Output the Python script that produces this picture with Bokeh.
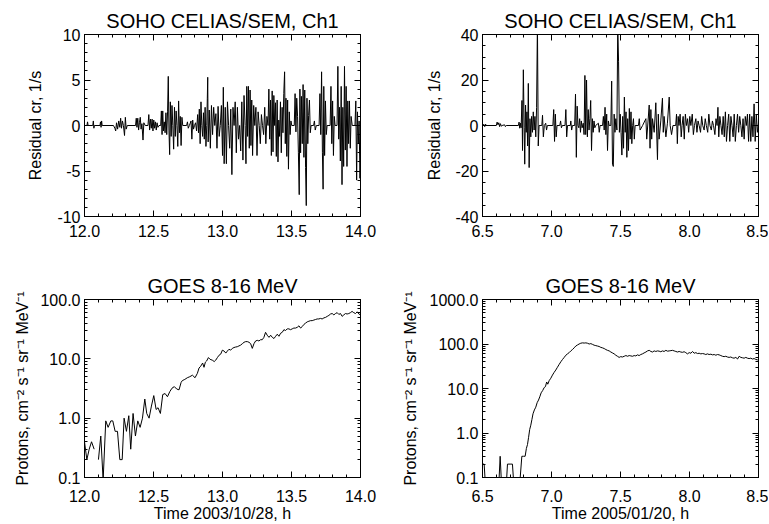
from bokeh.plotting import figure
from bokeh.models import (Range1d, LinearAxis, LogAxis, FixedTicker, PrintfTickFormatter,
                          CustomJSTickFormatter)
from bokeh.layouts import column, row
from bokeh.embed import file_html
from bokeh.resources import INLINE

FONT = "Liberation Sans"
NAN = float("nan")

# ---------------- data ----------------
# SOHO CELIAS/SEM Ch1 residual count rate, 2003/10/28 (hour, 1/s)
sem_2003 = [
    (12.000, 0), (12.018, 0), (12.022, 0.4), (12.026, 0), (12.060, 0), (12.064, 0.5), (12.068, -0.3), (12.072, 0),
    (12.112, 0), (12.116, 0.4), (12.120, -0.2), (12.124, 0.5), (12.128, 0), (12.210, 0), (12.220, -0.3), (12.226, -0.6),
    (12.232, 0.3), (12.240, -0.4), (12.248, 0.5), (12.256, -0.2), (12.262, 0.8), (12.268, -0.3), (12.275, 0.5), (12.282, 0),
    (12.290, -1.1), (12.296, 0.9), (12.302, -0.4), (12.310, 0),
    (12.370, 0), (12.375, 0.8), (12.380, -0.2), (12.386, 0.8), (12.392, -0.5), (12.398, 0.3), (12.404, 0.9), (12.410, -0.4),
    (12.416, 0.2), (12.424, -1.6), (12.430, 0.3), (12.440, 0), (12.460, 0), (12.466, 1.2), (12.472, -0.5), (12.478, 0.7),
    (12.484, -0.3), (12.490, 0.7), (12.496, -0.6), (12.502, 0.6), (12.508, -0.3), (12.514, 0.4), (12.520, -0.5), (12.526, 0.3),
    (12.532, -0.2), (12.540, 0), (12.552, 0), (12.557, 1.6), (12.562, -1.0), (12.567, 1.6), (12.572, -0.6), (12.578, 0.4),
    (12.584, -0.8), (12.590, 1.4), (12.596, -1.0), (12.602, 1.5), (12.607, 5.4), (12.612, -0.5), (12.617, -3.2), (12.622, 2.6),
    (12.628, -1.2), (12.634, 2.2), (12.640, 0), (12.646, -2.6), (12.652, 2.0), (12.658, -1.2), (12.664, 1.6), (12.670, 0),
    (12.676, -2.3), (12.682, 2.7), (12.688, -0.8), (12.694, 1.0), (12.700, -2.2), (12.706, 0.9), (12.712, 0),
    (12.740, 0), (12.746, 0.4), (12.752, -0.3), (12.760, 0), (12.772, 0.5), (12.778, -1.5), (12.784, 0.6),
    (12.790, -0.4), (12.797, 0), (12.805, 0.3), (12.812, -0.6), (12.820, 1.2), (12.826, -0.8), (12.832, 1.8), (12.838, -2.0),
    (12.844, 2.6), (12.850, 0), (12.856, -1.2), (12.862, 1.4), (12.868, -1.5), (12.874, 2.0), (12.880, -2.3), (12.886, 0),
    (12.890, 3.0), (12.893, 5.3), (12.896, -1.8), (12.904, 1.7), (12.912, -2.5), (12.920, 2.2), (12.928, -1.0), (12.936, 2.0),
    (12.944, 0), (12.952, 1.3), (12.960, -2.5), (12.968, 2.1), (12.976, -1.2), (12.984, 0), (12.992, 2.2), (13.000, -3.3),
    (13.006, 4.2), (13.012, -4.2), (13.020, 2.0), (13.028, -4.2), (13.036, 2.6), (13.044, 0), (13.052, -2.5), (13.060, 1.8),
    (13.068, -5.4), (13.076, 2.0), (13.084, 0), (13.092, 2.6), (13.100, -3.0), (13.108, 2.0), (13.116, -1.5), (13.124, 0),
    (13.132, -2.8), (13.140, 2.6), (13.148, -3.8), (13.156, 3.3), (13.164, 0), (13.170, -4.2), (13.176, 4.3), (13.182, -1.2),
    (13.188, 4.3), (13.194, -2.5), (13.200, 3.9), (13.206, -2.2), (13.212, 2.8), (13.218, -3.3), (13.226, 2.2), (13.234, 0),
    (13.242, 2.0), (13.250, -3.3), (13.258, 1.5), (13.266, 0), (13.274, -2.0), (13.282, 1.2), (13.290, 0),
    (13.298, -1.0), (13.306, 2.0), (13.314, -2.0), (13.322, 1.0), (13.330, 0), (13.336, 4.0), (13.342, -1.5), (13.348, 2.8),
    (13.354, -3.3), (13.360, 3.8), (13.366, -2.9),
    (13.372, 3.3), (13.378, 0), (13.384, 2.5), (13.390, -3.4), (13.396, 2.8), (13.402, -4.0), (13.408, 0.6), (13.414, -1.2),
    (13.420, 2.6), (13.426, -3.0), (13.432, 2.0), (13.438, -0.8), (13.444, 3.5), (13.450, 5.9), (13.455, -2.0), (13.460, 3.0),
    (13.466, -3.4), (13.472, 2.8), (13.478, -4.8), (13.484, 1.5), (13.490, -1.0), (13.496, 0.5), (13.502, 0), (13.520, 0),
    (13.526, 3.5), (13.532, -0.7), (13.538, 3.0), (13.544, 1.0), (13.550, -3.0), (13.556, -7.6), (13.561, 4.0), (13.566, -3.0),
    (13.572, 3.2), (13.578, -2.0), (13.584, 4.5), (13.590, -3.5), (13.596, 3.9), (13.602, -4.6), (13.607, -8.8), (13.612, 3.0),
    (13.618, -2.0), (13.624, 1.1), (13.630, 2.8), (13.636, -0.8), (13.642, 0), (13.660, 0), (13.666, 0.5), (13.672, -0.5),
    (13.680, 0), (13.700, 0), (13.706, 3.5), (13.712, -1.0), (13.718, 5.9), (13.724, -3.0), (13.729, -7.0), (13.734, 4.3),
    (13.740, -3.3), (13.746, 2.7), (13.752, -1.0), (13.758, 0), (13.780, 0), (13.786, 4.3), (13.792, -2.0), (13.798, 2.7),
    (13.804, -3.3), (13.810, 1.0), (13.816, 0), (13.830, 0), (13.836, 6.5), (13.842, -1.5), (13.848, 2.0), (13.854, -3.9),
    (13.860, 4.3), (13.866, -6.5), (13.872, 2.0), (13.878, -4.5), (13.884, 6.5), (13.890, -2.7), (13.896, 4.3), (13.902, -4.5),
    (13.908, 2.7), (13.914, -2.0), (13.920, 2.7), (13.926, -2.5), (13.932, 1.0), (13.940, 0), (13.960, 0), (13.966, 2.7),
    (13.972, -6.0), (13.978, 1.5), (13.984, -2.0), (13.990, 0.5), (13.996, -5.8), (14.000, -4.0),
]

# SOHO CELIAS/SEM Ch1 residual count rate, 2005/01/20 (hour, 1/s)
sem_2005 = [
    (6.500, 0), (6.510, 0.5), (6.516, -0.5), (6.522, 0.6), (6.528, 0), (6.600, 0), (6.606, 1.5), (6.612, 0.3),
    (6.618, 1.2), (6.624, -0.5), (6.630, 0.8), (6.636, -0.3), (6.642, 0), (6.660, 0.3), (6.666, -0.5), (6.672, 0),
    (6.760, 0), (6.765, 1.5), (6.770, -1.2), (6.775, 1.0), (6.780, -1.0), (6.786, 11), (6.790, -11), (6.796, 24.5),
    (6.802, -1), (6.806, -17), (6.812, 9), (6.817, -3), (6.822, 6), (6.827, -9), (6.832, 18.5), (6.838, -18.5),
    (6.844, 3), (6.850, -5), (6.856, 4), (6.862, -3), (6.868, 6), (6.874, -2), (6.880, 4), (6.886, -5),
    (6.892, 8), (6.898, 45), (6.904, -9), (6.910, 0), (6.930, 0), (6.935, 4.5), (6.941, -5), (6.948, 0),
    (6.958, 1), (6.964, -2), (6.970, 0), (7.010, 0), (7.016, 7), (7.022, -7), (7.028, 5), (7.034, -5),
    (7.040, 0), (7.060, 0), (7.066, 2), (7.072, -1), (7.078, 0), (7.098, 0), (7.104, 7), (7.110, -5),
    (7.116, 0), (7.136, 0), (7.140, 2), (7.146, -2), (7.152, 0), (7.168, 0), (7.174, 13.8), (7.180, -14),
    (7.186, 8.5), (7.192, 0), (7.198, -1), (7.204, 3), (7.210, -3), (7.216, 2), (7.222, -1), (7.230, 1),
    (7.236, -4), (7.242, 22), (7.248, -4), (7.254, 20), (7.260, -5), (7.266, 7), (7.272, -2), (7.278, 3),
    (7.284, 11), (7.290, -11), (7.296, 3), (7.302, -3), (7.308, 2), (7.314, -1), (7.320, 0), (7.340, 1),
    (7.346, -3), (7.352, 0), (7.370, 0), (7.376, 4), (7.382, -2), (7.388, 8), (7.394, -4), (7.400, 5),
    (7.406, -11), (7.412, 2), (7.418, 0), (7.430, 0), (7.436, 19.5), (7.442, -17), (7.448, -18), (7.454, 5),
    (7.460, -3), (7.466, 3), (7.474, -2), (7.480, 44), (7.486, 28), (7.492, -3), (7.498, 5), (7.504, -3),
    (7.510, -13), (7.516, 4), (7.522, -10), (7.528, 12.5), (7.534, -3), (7.540, 6), (7.546, -14), (7.552, 3),
    (7.558, -11), (7.564, 7.5), (7.570, -6), (7.576, 6), (7.582, -8), (7.588, 0), (7.594, 3), (7.600, -6),
    (7.606, 0), (7.630, 0), (7.636, 3), (7.642, -2), (7.660, 0), (7.684, 3), (7.690, -6), (7.708, 9),
    (7.714, -10), (7.720, 7), (7.726, -6), (7.732, 3), (7.744, -3), (7.756, 10), (7.768, -15), (7.774, 5),
    (7.780, -6), (7.792, 2), (7.804, 12), (7.810, -3), (7.816, 4), (7.829, -5), (7.840, 1), (7.853, 12.5),
    (7.860, 0), (7.870, -4), (7.880, 0), (7.900, 0), (7.906, 5), (7.912, -8), (7.918, 4), (7.924, 0),
    (7.932, 5), (7.940, -5), (7.946, 0), (7.954, 4), (7.962, -6), (7.970, 5), (7.978, 0), (7.986, 3),
    (7.994, -3), (8.002, 4), (8.010, 0), (8.020, 5), (8.028, -4), (8.036, 0), (8.046, 3), (8.054, -3),
    (8.062, 2), (8.070, 0), (8.080, -3), (8.088, 4), (8.096, 0), (8.106, -2), (8.114, 3), (8.122, 0),
    (8.132, -3), (8.140, 5), (8.148, 0), (8.158, -2), (8.166, 2), (8.174, 0), (8.184, -4), (8.192, 3),
    (8.200, 0), (8.206, 8), (8.212, -5), (8.220, 4), (8.228, 0), (8.236, -4), (8.244, 4), (8.252, -5),
    (8.260, 6), (8.268, -7), (8.276, 0), (8.284, 5), (8.292, -7), (8.300, 4), (8.308, 0), (8.316, -5),
    (8.324, 5), (8.332, -7), (8.340, 0), (8.348, 5), (8.356, -3), (8.364, 4), (8.372, 0), (8.380, -5),
    (8.388, 3), (8.396, -6), (8.404, 4), (8.412, 0), (8.420, 5), (8.428, -7), (8.436, 5), (8.444, -7),
    (8.452, 4), (8.460, -5), (8.468, 9.5), (8.476, -7), (8.484, 5), (8.492, -3), (8.500, 1),
]

# GOES 8-16 MeV protons, 2003/10/28 (hour, cm-2 s-1 sr-1 MeV-1)
goes_2003 = [
    (12.000, 0.40), (12.017, 0.20), (12.034, 0.30), (12.051, 0.40), (12.070, 0.30), (12.085, NAN),
    (12.101, 0.20), (12.118, 0.50), (12.135, 0.09), (12.154, 0.90), (12.171, 0.70), (12.191, 0.90),
    (12.205, 0.90), (12.222, 0.60), (12.239, 0.60), (12.256, 0.20), (12.273, 0.20), (12.287, 1.00),
    (12.304, 0.60), (12.321, 1.10), (12.335, 0.30), (12.352, 1.20), (12.369, 0.50), (12.386, 0.90),
    (12.403, 0.70), (12.420, 1.00), (12.437, 2.10), (12.451, 1.20), (12.468, 1.00), (12.485, 1.60),
    (12.502, 2.40), (12.519, 1.40), (12.533, 1.50), (12.550, 1.20), (12.567, 2.50), (12.584, 2.60),
    (12.601, 2.30), (12.618, 2.80), (12.634, 3.20), (12.651, 3.40), (12.668, 3.10), (12.685, 3.00),
    (12.700, 4.00), (12.709, 4.30), (12.727, 4.50), (12.745, 4.80), (12.763, 5.00), (12.782, 5.30),
    (12.801, 4.80), (12.818, 5.70), (12.830, 7.00), (12.842, 7.50), (12.856, 8.50), (12.866, 7.20),
    (12.876, 8.80), (12.885, 9.20), (12.898, 10.5), (12.910, 9.80), (12.926, 9.50), (12.940, 9.00),
    (12.951, 9.50), (12.963, 10.5), (12.975, 11.5), (12.987, 12.0), (12.999, 14.0), (13.012, 13.5),
    (13.024, 12.5), (13.035, 13.5), (13.047, 14.5), (13.059, 14.0), (13.071, 15.0), (13.083, 15.5),
    (13.095, 15.8), (13.107, 16.0), (13.119, 16.5), (13.131, 17.0), (13.144, 18.0), (13.156, 19.0),
    (13.168, 19.5), (13.180, 19.5), (13.192, 19.0), (13.204, 18.0), (13.216, 15.0), (13.228, 18.0),
    (13.240, 20.0), (13.252, 20.5), (13.264, 20.0), (13.276, 21.0), (13.288, 21.0), (13.300, 23.0),
    (13.312, 28.0), (13.324, 25.0), (13.337, 23.0), (13.349, 25.0), (13.361, 23.0), (13.373, 22.0),
    (13.385, 24.0), (13.397, 26.0), (13.409, 24.0), (13.421, 27.0), (13.433, 28.0), (13.445, 31.0),
    (13.457, 30.0), (13.469, 32.0), (13.481, 32.0), (13.493, 31.0), (13.505, 32.0), (13.517, 33.0),
    (13.529, 33.0), (13.542, 34.0), (13.554, 36.0), (13.566, 33.0), (13.578, 35.0), (13.590, 38.0),
    (13.602, 40.0), (13.614, 42.0), (13.626, 43.0), (13.638, 44.0), (13.650, 44.0), (13.662, 45.0),
    (13.674, 46.0), (13.686, 47.0), (13.698, 47.0), (13.710, 48.0), (13.722, 47.0), (13.735, 49.0),
    (13.747, 50.0), (13.759, 52.0), (13.771, 54.0), (13.783, 57.0), (13.795, 58.0), (13.807, 55.0),
    (13.819, 58.0), (13.831, 60.0), (13.843, 56.0), (13.855, 58.0), (13.867, 52.0), (13.879, 55.0),
    (13.891, 58.0), (13.903, 57.0), (13.915, 58.0), (13.927, 60.0), (13.939, 63.0), (13.951, 60.0),
    (13.964, 58.0), (13.976, 62.0), (13.988, 57.0), (14.000, 55.0),
]

# GOES 8-16 MeV protons, 2005/01/20 (hour, cm-2 s-1 sr-1 MeV-1); 0.05 = below plot floor
goes_2005 = [
    (6.500, 0.20), (6.512, 0.20), (6.524, 0.05), (6.560, 0.05), (6.600, 0.05), (6.616, 0.05), (6.628, 0.30),
    (6.640, 0.05), (6.655, 0.05), (6.670, 0.05), (6.681, 0.20), (6.700, 0.20), (6.717, 0.20), (6.730, 0.05),
    (6.745, 0.05), (6.766, 0.05), (6.785, 0.30), (6.797, 0.30), (6.809, 0.30), (6.818, 0.45), (6.826, 0.55),
    (6.834, 0.80), (6.842, 1.20), (6.850, 1.50), (6.858, 2.00), (6.866, 2.70), (6.876, 3.30), (6.886, 3.80),
    (6.896, 4.80), (6.906, 5.50), (6.915, 6.50), (6.925, 8.00), (6.936, 9.00), (6.947, 10.5), (6.956, 11.0),
    (6.965, 14.0), (6.973, 12.5), (6.983, 15.0), (6.995, 17.0), (7.007, 20.0), (7.019, 23.0), (7.031, 26.0),
    (7.043, 30.0), (7.056, 35.0), (7.068, 40.0), (7.080, 45.0), (7.092, 50.0), (7.104, 56.0), (7.116, 60.0),
    (7.128, 64.0), (7.140, 70.0), (7.152, 75.0), (7.164, 82.0), (7.176, 90.0), (7.188, 95.0), (7.200, 100.0),
    (7.212, 104.0), (7.224, 106.0), (7.237, 105.0), (7.249, 106.0), (7.261, 104.0), (7.273, 100.0),
    (7.285, 102.0), (7.297, 98.0), (7.309, 94.0),
    (7.321, 92.0), (7.333, 90.0), (7.345, 88.0), (7.357, 84.0), (7.369, 82.0), (7.382, 79.0), (7.394, 75.0),
    (7.406, 72.0), (7.418, 70.0), (7.430, 66.0), (7.442, 63.0), (7.454, 60.0), (7.466, 56.0), (7.478, 53.0),
    (7.490, 50.0), (7.502, 52.0), (7.514, 51.0), (7.527, 53.0), (7.539, 55.0), (7.551, 53.0), (7.563, 55.0),
    (7.575, 54.0), (7.587, 53.0), (7.599, 55.0), (7.611, 54.0), (7.623, 57.0), (7.635, 55.0), (7.647, 58.0),
    (7.659, 60.0), (7.671, 63.0), (7.684, 66.0), (7.696, 70.0), (7.708, 72.0), (7.720, 68.0), (7.732, 66.0),
    (7.744, 70.0), (7.756, 68.0), (7.768, 70.0), (7.780, 69.0), (7.792, 67.0), (7.804, 70.0), (7.816, 68.0),
    (7.829, 72.0), (7.841, 69.0), (7.853, 70.0), (7.865, 71.0), (7.877, 72.0), (7.889, 70.0), (7.901, 68.0),
    (7.913, 66.0), (7.925, 68.0), (7.937, 66.0), (7.949, 65.0), (7.961, 67.0), (7.973, 64.0), (7.985, 60.0),
    (7.998, 64.0), (8.010, 62.0), (8.022, 68.0), (8.034, 62.0), (8.046, 64.0), (8.058, 61.0), (8.070, 62.0),
    (8.082, 60.0), (8.094, 61.0), (8.106, 60.0), (8.118, 58.0), (8.130, 60.0), (8.142, 58.0), (8.155, 59.0),
    (8.167, 57.0), (8.179, 58.0), (8.191, 56.0), (8.203, 58.0), (8.215, 57.0), (8.227, 55.0), (8.239, 53.0),
    (8.251, 52.0), (8.263, 53.0), (8.275, 51.0), (8.287, 50.0), (8.299, 51.0), (8.311, 49.0), (8.323, 48.0),
    (8.336, 50.0), (8.348, 46.0), (8.360, 53.0), (8.372, 50.0), (8.384, 49.0), (8.396, 48.0), (8.408, 50.0),
    (8.420, 48.0), (8.432, 47.0), (8.444, 48.0), (8.456, 46.0), (8.468, 47.0), (8.481, 45.0), (8.493, 44.0),
    (8.500, 44.0),
]

# axis ticks / labels
x_major_2003 = [12.0, 12.5, 13.0, 13.5, 14.0]
x_major_2005 = [6.5, 7.0, 7.5, 8.0, 8.5]
y_major_sem_2003 = [-10, -5, 0, 5, 10]
y_major_sem_2005 = [-40, -20, 0, 20, 40]
y_major_goes_2003 = [0.1, 1.0, 10.0, 100.0]
y_major_goes_2005 = [0.1, 1.0, 10.0, 100.0, 1000.0]

TITLE_SEM = "SOHO CELIAS/SEM, Ch1"
TITLE_GOES = "GOES 8-16 MeV"
YLAB_SEM = "Residual cr, 1/s"
YLAB_GOES = "Protons, cm\u207b\u00b2 s\u207b\u00b9 sr\u207b\u00b9 MeV\u207b\u00b9"
XLAB_2003 = "Time 2003/10/28, h"
XLAB_2005 = "Time 2005/01/20, h"


def lin_minor(lo, hi, step):
    n = int(round((hi - lo) / step))
    return [round(lo + i * step, 4) for i in range(n + 1)]


def log_minor(lo_exp, hi_exp):
    out = []
    for e in range(lo_exp, hi_exp):
        for m in range(2, 10):
            out.append(m * 10.0 ** e)
    return out


def style_axis(ax, hidden=False):
    ax.major_tick_in = 6
    ax.major_tick_out = 0
    ax.minor_tick_in = 3
    ax.minor_tick_out = 0
    ax.axis_line_color = "black"
    ax.major_tick_line_color = "black"
    ax.minor_tick_line_color = "black"
    ax.major_label_text_font = FONT
    ax.major_label_text_font_size = "16px"
    ax.major_label_text_color = "black"
    ax.major_label_standoff = 4
    ax.axis_label_text_font = FONT
    ax.axis_label_text_font_size = "16px"
    ax.axis_label_text_font_style = "normal"
    ax.axis_label_text_color = "black"
    if hidden:
        ax.formatter = CustomJSTickFormatter(code="return ''")
        ax.major_label_text_color = None
        ax.major_label_standoff = 0
        ax.axis_label = None


def panel(data, title, xr, xmaj, xminor, yr, ymaj, yminor, log, yfmt, ylabel, xlabel,
          width, height, bl, br, bt, bb, ylab_standoff, xtick_standoff):
    t = [d[0] for d in data]
    v = [d[1] for d in data]
    p = figure(width=width, height=height,
               x_range=Range1d(*xr), y_range=Range1d(*yr),
               y_axis_type="log" if log else "linear",
               output_backend="svg", toolbar_location=None,
               min_border_left=bl, min_border_right=br,
               min_border_top=bt, min_border_bottom=bb)
    p.grid.visible = False
    p.background_fill_color = "white"
    p.border_fill_color = "white"
    p.outline_line_color = "black"
    p.outline_line_width = 1
    p.outline_line_alpha = 1

    p.line(t, v, line_color="black", line_width=1)

    xa = p.xaxis[0]
    xa.ticker = FixedTicker(ticks=xmaj, minor_ticks=xminor)
    xa.formatter = PrintfTickFormatter(format="%.1f")
    style_axis(xa)
    xa.major_label_standoff = xtick_standoff
    if xlabel:
        xa.axis_label = xlabel
        xa.axis_label_standoff = 0

    ya = p.yaxis[0]
    ya.ticker = FixedTicker(ticks=ymaj, minor_ticks=yminor)
    ya.formatter = PrintfTickFormatter(format=yfmt)
    style_axis(ya)
    ya.axis_label = ylabel
    ya.axis_label_standoff = ylab_standoff

    top = LinearAxis(ticker=FixedTicker(ticks=xmaj, minor_ticks=xminor))
    style_axis(top, hidden=True)
    p.add_layout(top, "above")

    if log:
        right = LogAxis(ticker=FixedTicker(ticks=ymaj, minor_ticks=yminor))
    else:
        right = LinearAxis(ticker=FixedTicker(ticks=ymaj, minor_ticks=yminor))
    style_axis(right, hidden=True)
    p.add_layout(right, "right")

    p.title.text = title
    p.title.align = "center"
    p.title.text_font = FONT
    p.title.text_font_size = "20px"
    p.title.text_font_style = "normal"
    p.title.text_color = "black"
    p.title.standoff = 5
    return p


W1, W2 = 384, 384
H1, H2 = 260, 264

p1 = panel(sem_2003, TITLE_SEM, (12.0, 14.0), x_major_2003, lin_minor(12.0, 14.0, 0.1),
           (-10, 10), y_major_sem_2003, lin_minor(-10, 10, 1), False, "%d", YLAB_SEM, None,
           W1, H1, 84, 24, 34, 44, 10, 8)
p2 = panel(sem_2005, TITLE_SEM, (6.5, 8.5), x_major_2005, lin_minor(6.5, 8.5, 0.1),
           (-40, 40), y_major_sem_2005, lin_minor(-40, 40, 5), False, "%d", YLAB_SEM, None,
           W2, H1, 98, 10, 34, 44, 9, 8)
p3 = panel(goes_2003, TITLE_GOES, (12.0, 14.0), x_major_2003, lin_minor(12.0, 14.0, 0.1),
           (0.1, 100.0), y_major_goes_2003, log_minor(-1, 2), True, "%.1f", YLAB_GOES, XLAB_2003,
           W1, H2, 84, 24, 39, 44, 6, 12)
p4 = panel(goes_2005, TITLE_GOES, (6.5, 8.5), x_major_2005, lin_minor(6.5, 8.5, 0.1),
           (0.1, 1000.0), y_major_goes_2005, log_minor(-1, 3), True, "%.1f", YLAB_GOES, XLAB_2005,
           W2, H2, 98, 10, 39, 44, 8, 12)

layout = column(row(p1, p2), row(p3, p4))

open("out.html", "w").write(file_html(layout, INLINE))
